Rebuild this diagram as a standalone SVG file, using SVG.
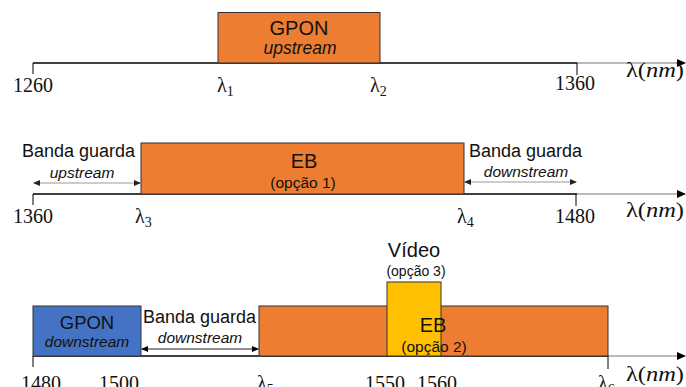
<svg xmlns="http://www.w3.org/2000/svg" width="686" height="387" viewBox="0 0 686 387">
<defs>
<marker id="ax" markerWidth="9" markerHeight="8" refX="8" refY="4" orient="auto" markerUnits="userSpaceOnUse"><path d="M0,0 L9,4 L0,8 Z" fill="#000"/></marker>
<marker id="ah" markerWidth="7" markerHeight="6" refX="6" refY="3" orient="auto-start-reverse" markerUnits="userSpaceOnUse"><path d="M0,0 L7,3 L0,6 Z" fill="#000"/></marker>
<marker id="ahg" markerWidth="7" markerHeight="6" refX="6" refY="3" orient="auto-start-reverse" markerUnits="userSpaceOnUse"><path d="M0,0 L7,3 L0,6 Z" fill="#222"/></marker>
</defs>
<style>
.axis{stroke:#000;stroke-width:1.3;fill:none}
.axg{stroke:#777;stroke-width:1;fill:none}
.tick{stroke:#000;stroke-width:1;fill:none}
.org{fill:#ED7D31;stroke:#333;stroke-width:1}
.blu{fill:#4472C4;stroke:#333;stroke-width:1}
.yel{fill:#FFC000;stroke:#333;stroke-width:1}
.sans{font-family:"Liberation Sans",Arial,sans-serif;fill:#111}
.it{font-style:italic}
.num{font-family:"Liberation Serif","DejaVu Serif",serif;font-size:20px;fill:#111}
.guard{stroke:#999;stroke-width:1.2;fill:none}
.guardb{stroke:#222;stroke-width:1;fill:none}
</style>

<g id="connectors">
<line class="axis" x1="33" y1="63" x2="577" y2="63"/>
<line class="axg" x1="577" y1="63" x2="685" y2="63" marker-end="url(#ax)"/>
<line class="tick" x1="33" y1="63" x2="33" y2="74"/>
<line class="tick" x1="577" y1="63" x2="577" y2="75"/>
<line class="axis" x1="33" y1="194" x2="577" y2="194"/>
<line class="axg" x1="577" y1="194" x2="685" y2="194" marker-end="url(#ax)"/>
<line class="tick" x1="33" y1="194" x2="33" y2="205"/>
<line class="tick" x1="576" y1="194" x2="576" y2="206"/>
<line class="guard" x1="34" y1="183" x2="140" y2="183" marker-start="url(#ahg)" marker-end="url(#ahg)"/>
<line class="guard" x1="465" y1="182" x2="576" y2="182" marker-start="url(#ahg)" marker-end="url(#ahg)"/>
<line class="axis" x1="33" y1="356" x2="608" y2="356"/>
<line class="axg" x1="608" y1="356" x2="685" y2="356" marker-end="url(#ax)"/>
<line class="tick" x1="33" y1="356" x2="33" y2="367"/>
<line class="tick" x1="608" y1="356" x2="608" y2="369"/>
<line class="guardb" x1="142" y1="349" x2="258" y2="349" marker-start="url(#ah)" marker-end="url(#ah)"/>
</g>

<g id="gpon-up">
<rect class="org" x="218" y="12.5" width="162" height="50.5"/>
<text class="sans" x="299" y="35" font-size="20" text-anchor="middle">GPON</text>
<text class="sans it" x="300" y="54" font-size="17.5" text-anchor="middle">upstream</text>
</g>
<g id="labels-top">
<text class="num" x="33" y="92" text-anchor="middle">1260</text>
<text class="num" x="217" y="92">λ<tspan font-size="14" dy="4">1</tspan></text>
<text class="num" x="370" y="92">λ<tspan font-size="14" dy="4">2</tspan></text>
<text class="num" x="575" y="90" text-anchor="middle">1360</text>
<text class="num" x="626" y="77" font-size="24" textLength="58" lengthAdjust="spacingAndGlyphs">λ(<tspan font-style="italic">nm</tspan>)</text>
</g>

<g id="eb1">
<rect class="org" x="141" y="143" width="323" height="51"/>
<text class="sans" x="304" y="168" font-size="20" text-anchor="middle">EB</text>
<text class="sans" x="303" y="188" font-size="15.5" text-anchor="middle">(opção 1)</text>
</g>
<g id="guard-up">
<text class="sans" x="22" y="157" font-size="18">Banda guarda</text>
<text class="sans it" x="82" y="178" font-size="15.5" text-anchor="middle">upstream</text>
</g>
<g id="guard-down1">
<text class="sans" x="469" y="157" font-size="18">Banda guarda</text>
<text class="sans it" x="526" y="177" font-size="15.5" text-anchor="middle">downstream</text>
</g>
<g id="labels-mid">
<text class="num" x="33" y="223" text-anchor="middle">1360</text>
<text class="num" x="135" y="223">λ<tspan font-size="14" dy="4">3</tspan></text>
<text class="num" x="457" y="223">λ<tspan font-size="14" dy="4">4</tspan></text>
<text class="num" x="575" y="223" text-anchor="middle">1480</text>
<text class="num" x="626" y="217" font-size="24" textLength="58" lengthAdjust="spacingAndGlyphs">λ(<tspan font-style="italic">nm</tspan>)</text>
</g>

<g id="gpon-down">
<rect class="blu" x="33" y="306" width="108" height="50"/>
<text class="sans" x="87" y="329" font-size="18.5" text-anchor="middle">GPON</text>
<text class="sans it" x="87" y="347" font-size="15.5" text-anchor="middle">downstream</text>
</g>
<g id="guard-down2">
<text class="sans" x="143" y="323" font-size="18">Banda guarda</text>
<text class="sans it" x="200" y="343" font-size="15.5" text-anchor="middle">downstream</text>
</g>
<g id="eb2">
<rect class="org" x="259" y="306" width="349" height="50"/>
</g>
<g id="video">
<rect class="yel" x="387" y="282" width="54" height="74"/>
<text class="sans" x="414" y="257" font-size="20" text-anchor="middle">Vídeo</text>
<text class="sans" x="416" y="276" font-size="14" text-anchor="middle">(opção 3)</text>
</g>
<g id="eb2-text">
<text class="sans" x="433" y="332" font-size="20" text-anchor="middle">EB</text>
<text class="sans" x="434" y="352" font-size="15.5" text-anchor="middle">(opção 2)</text>
</g>
<g id="labels-bot">
<text class="num" x="41" y="390" text-anchor="middle">1480</text>
<text class="num" x="119" y="390" text-anchor="middle">1500</text>
<text class="num" x="257" y="390">λ<tspan font-size="14" dy="4">5</tspan></text>
<text class="num" x="385" y="390" text-anchor="middle">1550</text>
<text class="num" x="437" y="390" text-anchor="middle">1560</text>
<text class="num" x="598" y="390">λ<tspan font-size="14" dy="4">6</tspan></text>
<text class="num" x="626" y="381" font-size="24" textLength="58" lengthAdjust="spacingAndGlyphs">λ(<tspan font-style="italic">nm</tspan>)</text>
</g>
</svg>
